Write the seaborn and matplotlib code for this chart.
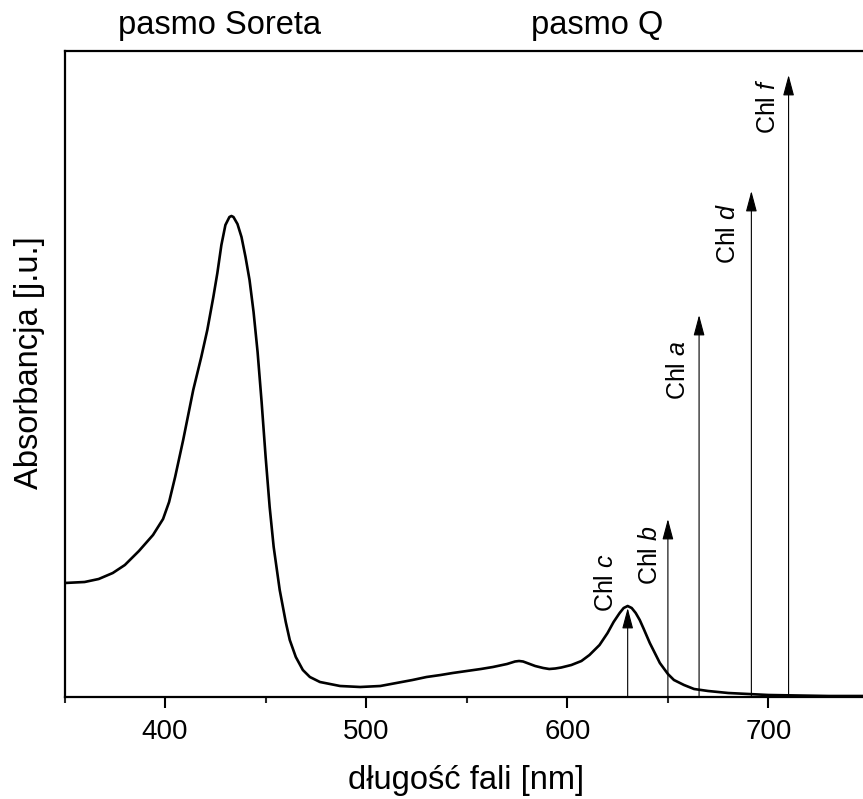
import numpy as np
import pandas as pd
import matplotlib
matplotlib.use('Agg')
import matplotlib.pyplot as plt
import seaborn as sns
from matplotlib.ticker import MultipleLocator
from matplotlib.transforms import blended_transform_factory

# absorption spectrum (arbitrary units)
wavelength = [350, 360, 367, 374, 380, 387, 394, 399, 402, 405, 409, 414, 418, 421, 424, 426,
              428, 430, 432, 433, 434, 436, 438, 440, 442, 444, 446, 448, 450, 452, 454,
              457, 460, 462, 465, 468.5, 472, 477, 487, 497, 507, 515, 523, 530, 537,
              543, 550, 557, 563, 570, 574, 576, 578, 580, 584, 588, 591, 594, 597, 602,
              607, 611, 616, 620, 623, 626, 628, 630, 632, 634, 636, 638, 641, 644, 646,
              650, 653, 658, 663, 670, 680, 690, 700, 715, 730, 747]
absorbance = [114, 115, 118, 124, 132, 146, 162, 178, 195, 220, 257, 307, 340, 367, 400, 424,
              452, 472, 480, 481, 480, 473, 460, 440, 417, 385, 345, 295, 240, 190, 150,
              107, 75, 57, 40, 27, 20, 15, 11, 10, 11, 14, 17, 20, 22,
              24, 26, 28, 30, 33, 35.5, 36, 35.5, 34, 31, 29, 28, 28.5, 29.5, 32,
              36, 42, 52, 64, 75, 84, 89, 91, 89, 84, 77, 68, 54, 42, 34,
              23, 17, 12, 8, 6, 4, 3, 2, 1.5, 1, 1]

# chlorophyll Q-band positions and arrow heights
chl_names = ['c', 'b', 'a', 'd', 'f']
chl_wl = [630, 650, 665.5, 691.5, 710]
chl_height = [89, 178, 382, 506, 622]
label_top = [144, 172, 357, 494, 619]
label_x = [619, 641, 655, 680, 700]

band_names = ['pasmo Soreta', 'pasmo Q']
band_x = [427, 615]

df = pd.DataFrame({'wl': wavelength, 'A': absorbance})

sns.set_theme(style='ticks')
plt.rcParams['font.family'] = ['Liberation Sans', 'DejaVu Sans']
plt.rcParams['mathtext.fontset'] = 'custom'
plt.rcParams['mathtext.rm'] = 'Liberation Sans'
plt.rcParams['mathtext.it'] = 'Liberation Sans:italic'

fig = plt.figure(figsize=(8.63, 7.99), dpi=100)
ax = fig.add_axes([64.5 / 863, (799 - 697) / 799, (863 - 64.5) / 863, (697 - 51) / 799])

sns.lineplot(data=df, x='wl', y='A', color='black', linewidth=1.9, ax=ax)

for name, x, h, lt, lx in zip(chl_names, chl_wl, chl_height, label_top, label_x):
    ax.annotate('', xy=(x, h), xytext=(x, 0),
                arrowprops=dict(arrowstyle='-|>,head_length=0.75,head_width=0.2',
                                color='black', lw=0.8, mutation_scale=17,
                                shrinkA=0, shrinkB=0))
    ax.text(lx, lt, 'Chl $\\it{' + name + '}$', rotation=90, ha='center', va='top',
            fontsize=18, color='black')

trans = blended_transform_factory(ax.transData, ax.transAxes)
for name, x in zip(band_names, band_x):
    ax.text(x, 1.04, name, transform=trans, ha='center', va='center', fontsize=23.5, color='black')

ax.set_xlim(350, 747)
ax.set_ylim(0, 646)
ax.xaxis.set_major_locator(MultipleLocator(100))
ax.xaxis.set_minor_locator(MultipleLocator(50))
ax.set_yticks([])
ax.tick_params(axis='x', which='major', length=8, width=1.5, direction='out', labelsize=20, pad=8, colors='black')
ax.tick_params(axis='x', which='minor', length=4.5, width=1.5, direction='out')

for side in ['left', 'bottom', 'top']:
    ax.spines[side].set_linewidth(1.6)
    ax.spines[side].set_color('black')
ax.spines['right'].set_visible(False)

ax.set_xlabel('długość fali [nm]', fontsize=23.5, color='black')
ax.set_ylabel('Absorbancja [j.u.]', fontsize=23.5, color='black')
ax.xaxis.set_label_coords(0.503, -0.105)
ax.yaxis.set_label_coords(-0.024, 0.517)

fig.savefig('out.png', dpi=100, facecolor='white')
